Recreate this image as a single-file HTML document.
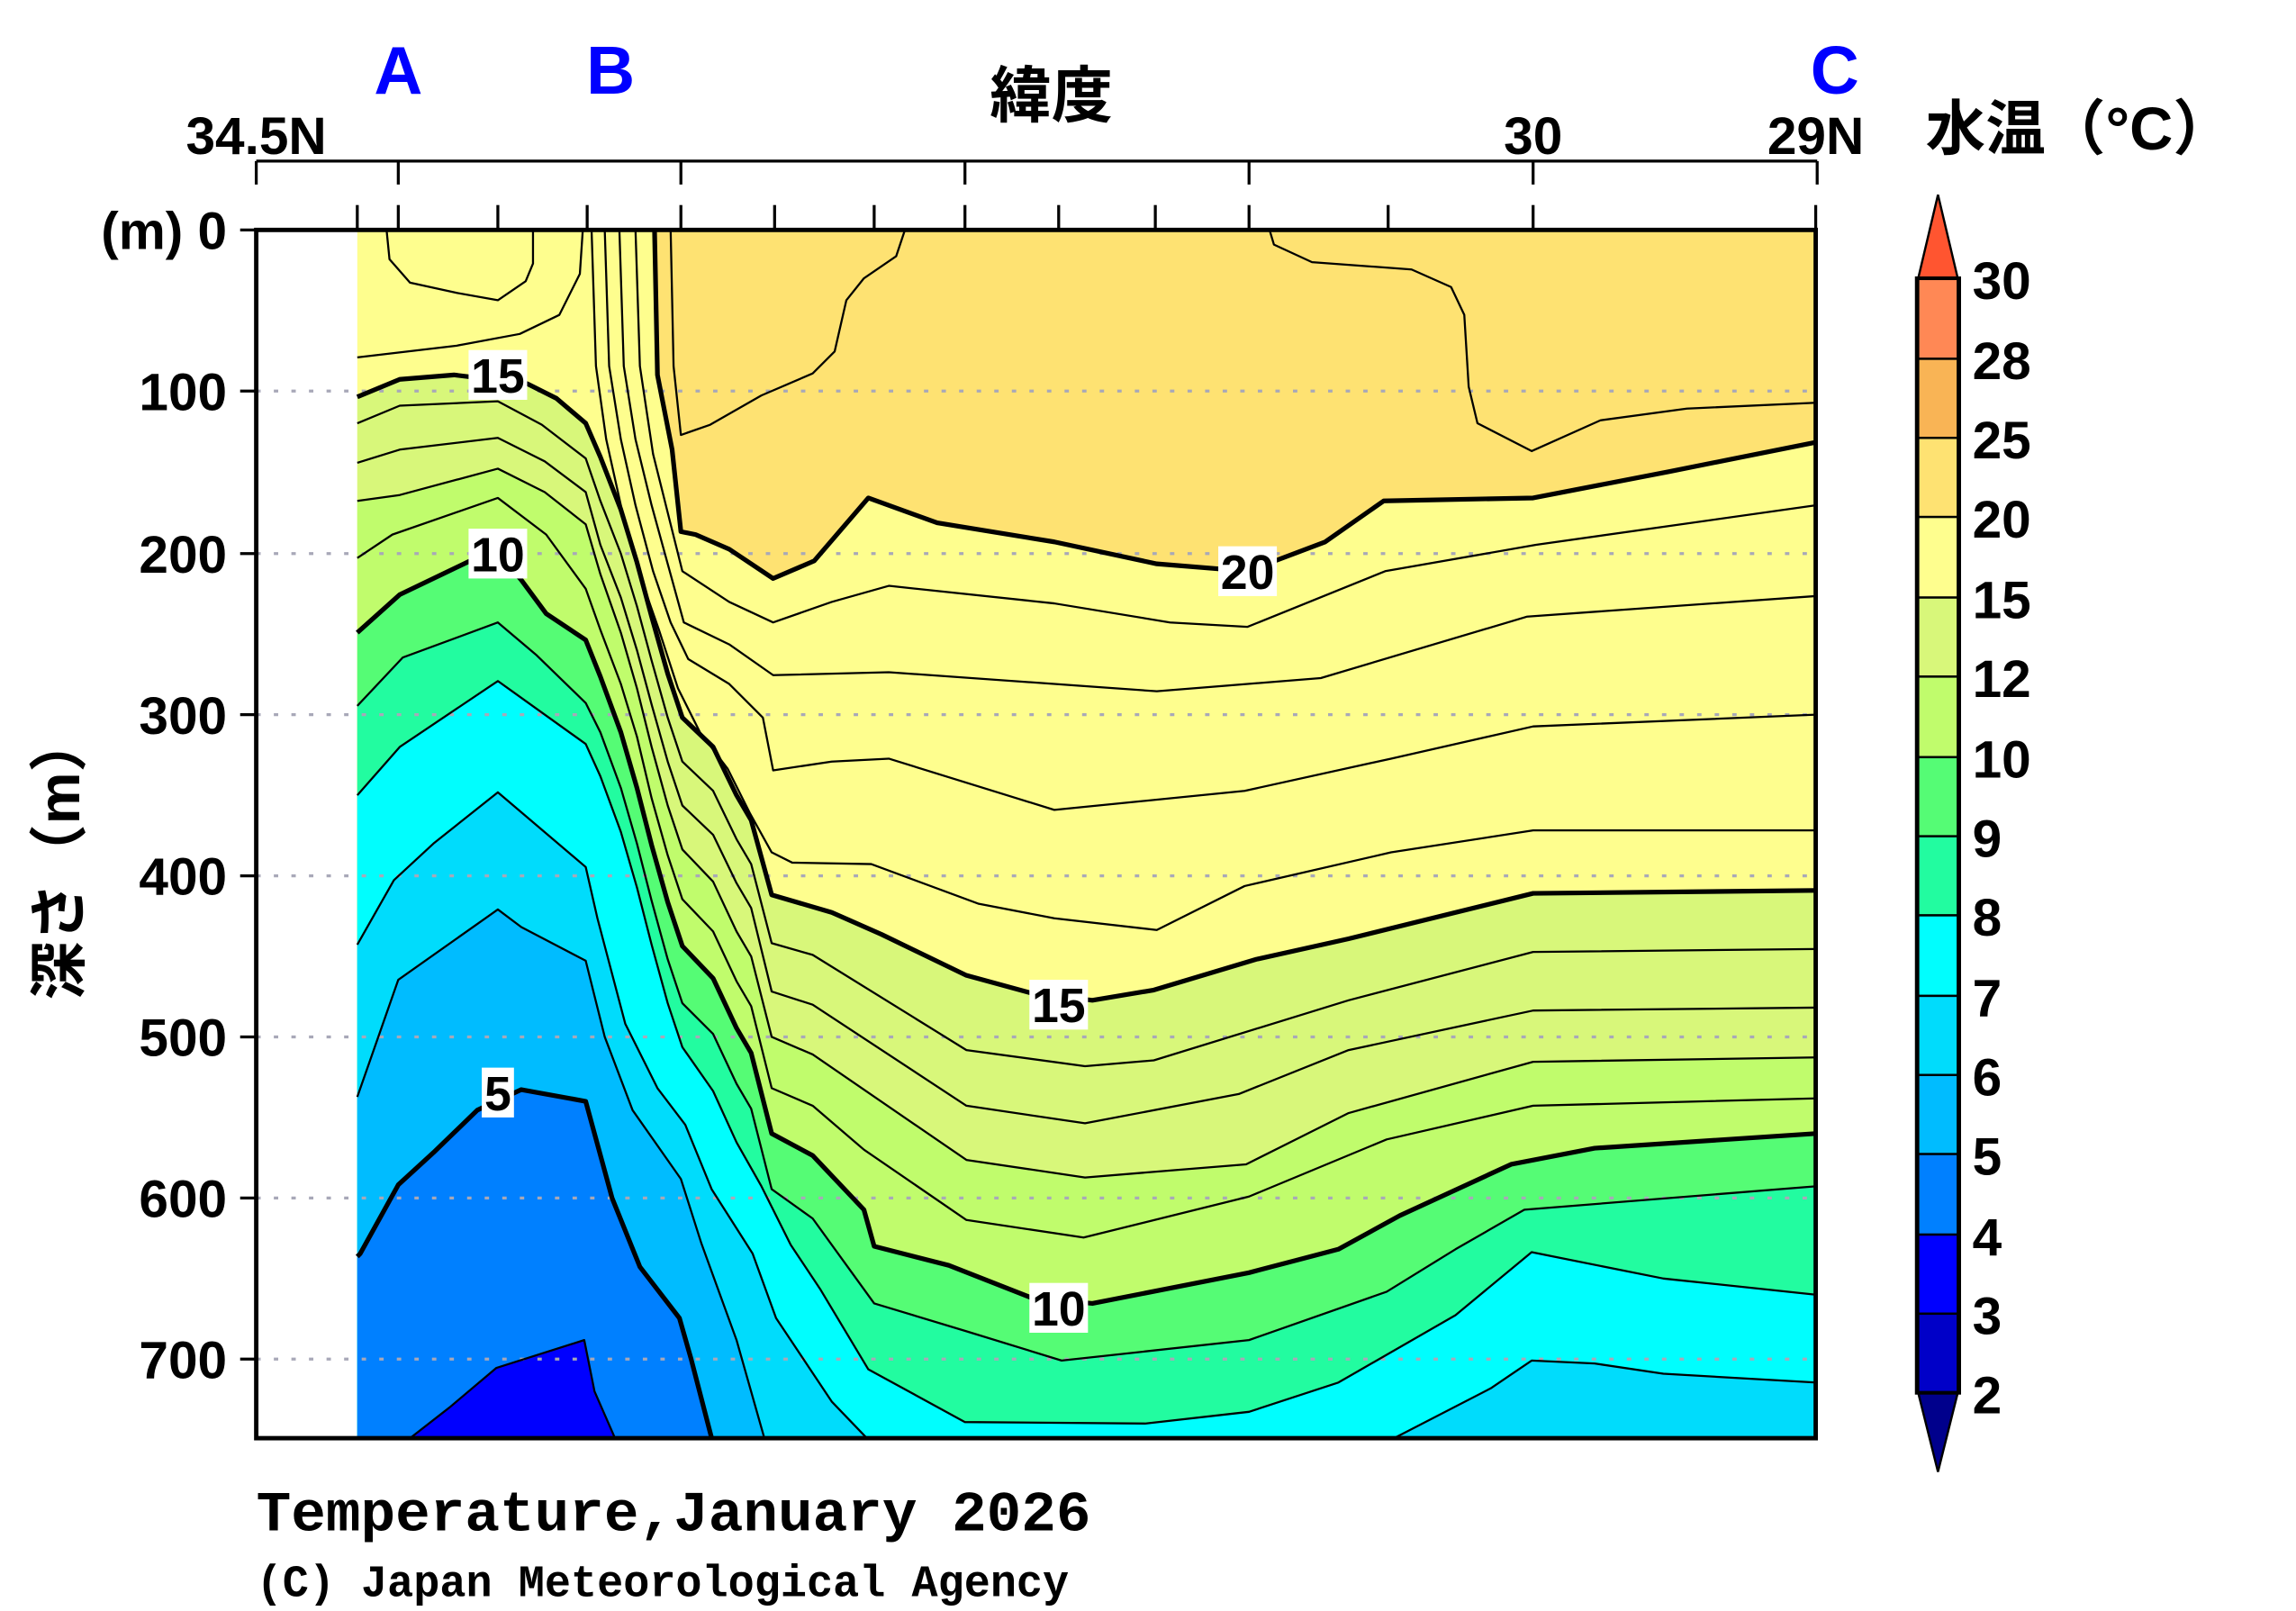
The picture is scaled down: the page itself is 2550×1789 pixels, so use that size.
<!DOCTYPE html>
<html><head><meta charset="utf-8"><style>html,body{margin:0;padding:0;background:#fff}svg{display:block}</style></head>
<body>
<svg width="2550" height="1789" viewBox="0 0 1568 1100" preserveAspectRatio="none" xmlns="http://www.w3.org/2000/svg" font-family="Liberation Sans, sans-serif">
<rect x="0" y="0" width="1568" height="1100" fill="#fff"/>
<!-- fills -->
<rect x="244" y="157" width="996" height="825" fill="#fefe8e"/>
<path fill="#fee272" d="M447,157 L449,256 L459,307 L465,363 L475,365 L498,375 L528,395 L556,383 L593,340 L640,357 L720,370 L790,385 L852,390 L905,370 L945,342 L1047,340 L1140,322 L1240,302 L1240,157 Z"/>
<path fill="#d8f77a" d="M244,271 L273,259 L310,256 L360,262 L380,272 L400,289 L410,312 L424,348 L435,384 L445,421 L456,460 L466,490 L487,510 L503,543 L513,560 L527,611 L568,623 L602,638 L660,666 L704,678 L746,683 L788,676 L858,655 L921,641 L1047,610 L1240,608 L1240,982 L244,982 Z"/>
<path fill="#c0fc6c" d="M244,342 L273,338 L340,320 L372,336 L400,358 L410,392 L424,432 L435,470 L445,510 L456,550 L466,580 L487,602 L503,636 L513,653 L527,708 L555,720 L660,792 L741,804 L851,795 L921,760 L1047,725 L1240,722 L1240,982 L244,982 Z"/>
<path fill="#55fc75" d="M244,432 L273,406 L321,383 L340,378 L356,396 L373,419 L400,437 L410,462 L424,500 L435,538 L445,577 L456,616 L466,646 L487,668 L503,702 L513,719 L527,774 L555,789 L590,826 L597,851 L648,864 L704,886 L746,890 L853,869 L914,853 L956,830 L1032,795 L1089,784 L1240,774 L1240,982 L244,982 Z"/>
<path fill="#22fca0" d="M244,482 L275,449 L340,425 L366,447 L400,480 L410,500 L424,538 L435,576 L445,615 L456,655 L466,685 L487,706 L503,740 L513,757 L527,812 L555,832 L597,890 L660,909 L725,929 L853,915 L947,882 L994,853 L1041,826 L1240,810 L1240,982 L244,982 Z"/>
<path fill="#00fefe" d="M244,543 L273,510 L340,465 L400,508 L410,530 L424,568 L435,606 L445,645 L456,685 L466,715 L487,745 L503,780 L520,810 L540,850 L560,880 L593,935 L659,971 L782,972 L853,964 L914,944 L994,898 L1046,855 L1136,873 L1240,884 L1240,982 L244,982 Z"/>
<path fill="#00dcfc" d="M244,645 L269,601 L296,576 L340,541 L400,592 L408,627 L427,699 L449,743 L468,768 L486,812 L514,856 L530,900 L568,957 L592,982 L244,982 Z"/>
<path fill="#00dcfc" d="M952,982 L1018,948 L1046,929 L1089,931 L1136,938 L1240,944 L1240,982 Z"/>
<path fill="#00bcff" d="M244,749 L272,669 L340,621 L356,633 L400,656 L413,708 L432,758 L465,805 L479,849 L503,915 L522,982 L244,982 Z"/>
<path fill="#0080ff" d="M244,858 L246,856 L272,809 L296,787 L326,758 L356,744 L400,752 L418,818 L437,865 L464,900 L472,928 L486,982 L244,982 Z"/>
<path fill="#0000ff" d="M280,982 L307,961 L339,934 L399,915 L406,950 L420,982 Z"/>
<!-- grid -->
<g stroke="#a8a8b8" stroke-width="2" stroke-dasharray="3,9">
<line x1="175" y1="267" x2="1240" y2="267"/><line x1="175" y1="378" x2="1240" y2="378"/><line x1="175" y1="488" x2="1240" y2="488"/><line x1="175" y1="598" x2="1240" y2="598"/><line x1="175" y1="708" x2="1240" y2="708"/><line x1="175" y1="818" x2="1240" y2="818"/><line x1="175" y1="928" x2="1240" y2="928"/>
</g>
<!-- thin contours -->
<g fill="none" stroke="#000" stroke-width="1.4" stroke-linejoin="round">
<polyline points="458,157 460,250 465,297 485,290 520,270 555,255 570,240 578,205 590,190 612,175 618,157"/>
<polyline points="867,157 870,167 896,179 964,184 991,196 1000,215 1003,264 1009,289 1046,308 1093,287 1152,279 1240,275"/>
<polyline points="264,157 266,177 280,193 312,200 340,205 359,192 364,180 364,157"/>
<polyline points="398,157 396,187 382,215 355,228 312,236 244,244"/>
<polyline points="434,157 437,250 446,310 456,350 466,390 498,411 528,425 568,411 607,400 720,412 799,425 852,428 946,390 1049,372 1240,345"/>
<polyline points="423,157 426,250 434,300 445,345 456,385 467,425 498,440 528,461 607,459 720,467 790,472 902,463 1043,421 1240,407"/>
<polyline points="413,157 416,250 424,300 434,345 446,390 458,425 470,450 498,467 521,490 528,526 568,520 607,518 720,553 850,540 950,518 1047,496 1240,488"/>
<polyline points="404,157 407,250 414,300 424,345 436,390 450,430 463,470 478,500 497,525 512,555 527,582 541,589 595,590 668,617 720,627 790,635 850,605 950,582 1047,567 1240,567"/>
<polyline points="244,289 273,277 340,274 370,290 400,313 410,342 424,378 435,414 445,451 456,490 466,520 487,540 503,573 513,590 527,644 555,652 660,717 741,728 788,724 921,683 1047,650 1240,648"/>
<polyline points="244,316 273,307 340,299 372,315 400,336 410,372 424,408 435,444 445,481 456,520 466,550 487,570 503,603 513,620 527,677 555,686 660,755 741,767 846,747 921,717 1047,690 1240,688"/>
<polyline points="244,342 273,338 340,320 372,336 400,358 410,392 424,432 435,470 445,510 456,550 466,580 487,602 503,636 513,653 527,708 555,720 660,792 741,804 851,795 921,760 1047,725 1240,722"/>
<polyline points="244,381 268,365 340,340 373,365 400,402 410,430 424,467 435,503 445,545 456,584 466,614 487,636 503,670 513,687 527,743 555,755 590,785 660,833 740,845 853,817 947,778 1047,755 1240,750"/>
<polyline points="244,482 275,449 340,425 366,447 400,480 410,500 424,538 435,576 445,615 456,655 466,685 487,706 503,740 513,757 527,812 555,832 597,890 660,909 725,929 853,915 947,882 994,853 1041,826 1240,810"/>
<polyline points="244,543 273,510 340,465 400,508 410,530 424,568 435,606 445,645 456,685 466,715 487,745 503,780 520,810 540,850 560,880 593,935 659,971 782,972 853,964 914,944 994,898 1046,855 1136,873 1240,884"/>
<polyline points="244,645 269,601 296,576 340,541 400,592 408,627 427,699 449,743 468,768 486,812 514,856 530,900 568,957 592,982"/>
<polyline points="952,982 1018,948 1046,929 1089,931 1136,938 1240,944"/>
<polyline points="244,749 272,669 340,621 356,633 400,656 413,708 432,758 465,805 479,849 503,915 522,982"/>
<polyline points="280,982 307,961 339,934 399,915 406,950 420,982"/>
</g>
<!-- thick contours -->
<g fill="none" stroke="#000" stroke-width="3.2" stroke-linejoin="round">
<polyline points="447,157 449,256 459,307 465,363 475,365 498,375 528,395 556,383 593,340 640,357 720,370 790,385 852,390 905,370 945,342 1047,340 1140,322 1240,302"/>
<polyline points="244,271 273,259 310,256 360,262 380,272 400,289 410,312 424,348 435,384 445,421 456,460 466,490 487,510 503,543 513,560 527,611 568,623 602,638 660,666 704,678 746,683 788,676 858,655 921,641 1047,610 1240,608"/>
<polyline points="244,432 273,406 321,383 340,378 356,396 373,419 400,437 410,462 424,500 435,538 445,577 456,616 466,646 487,668 503,702 513,719 527,774 555,789 590,826 597,851 648,864 704,886 746,890 853,869 914,853 956,830 1032,795 1089,784 1240,774"/>
<polyline points="244,858 246,856 272,809 296,787 326,758 356,744 400,752 418,818 437,865 464,900 472,928 486,982"/>
</g>
<!-- contour labels -->
<g font-size="33" font-weight="bold" text-anchor="middle">
<rect x="320" y="239" width="40" height="34" fill="#fff"/><text x="340" y="268">15</text>
<rect x="320" y="361" width="40" height="34" fill="#fff"/><text x="340" y="390">10</text>
<rect x="329" y="729" width="22" height="34" fill="#fff"/><text x="340" y="758">5</text>
<rect x="832" y="373" width="40" height="34" fill="#fff"/><text x="852" y="402">20</text>
<rect x="703" y="669" width="40" height="34" fill="#fff"/><text x="723" y="698">15</text>
<rect x="703" y="876" width="40" height="34" fill="#fff"/><text x="723" y="905">10</text>
</g>
<!-- frame -->
<rect x="175" y="157" width="1065" height="825" fill="none" stroke="#000" stroke-width="3"/>
<g stroke="#000" stroke-width="2">
<line x1="175" y1="110" x2="1241" y2="110"/>
<line x1="175" y1="110" x2="175" y2="126"/><line x1="272" y1="110" x2="272" y2="126"/><line x1="465" y1="110" x2="465" y2="126"/><line x1="659" y1="110" x2="659" y2="126"/><line x1="853" y1="110" x2="853" y2="126"/><line x1="1047" y1="110" x2="1047" y2="126"/><line x1="1241" y1="110" x2="1241" y2="126"/>
<line x1="244" y1="140" x2="244" y2="157"/><line x1="272" y1="140" x2="272" y2="157"/><line x1="340" y1="140" x2="340" y2="157"/><line x1="401" y1="140" x2="401" y2="157"/><line x1="465" y1="140" x2="465" y2="157"/><line x1="529" y1="140" x2="529" y2="157"/><line x1="597" y1="140" x2="597" y2="157"/><line x1="659" y1="140" x2="659" y2="157"/><line x1="723" y1="140" x2="723" y2="157"/><line x1="789" y1="140" x2="789" y2="157"/><line x1="853" y1="140" x2="853" y2="157"/><line x1="948" y1="140" x2="948" y2="157"/><line x1="1047" y1="140" x2="1047" y2="157"/><line x1="1240" y1="140" x2="1240" y2="157"/>
<line x1="164" y1="157" x2="175" y2="157"/><line x1="164" y1="267" x2="175" y2="267"/><line x1="164" y1="378" x2="175" y2="378"/><line x1="164" y1="488" x2="175" y2="488"/><line x1="164" y1="598" x2="175" y2="598"/><line x1="164" y1="708" x2="175" y2="708"/><line x1="164" y1="818" x2="175" y2="818"/><line x1="164" y1="928" x2="175" y2="928"/>
</g>
<!-- axis text -->
<g font-size="36" font-weight="bold" text-anchor="middle" fill="#000">
<text x="175" y="105">34.5N</text><text x="1047" y="105">30</text><text x="1240" y="105">29N</text>
</g>
<text x="718" y="80" font-size="42" font-weight="bold" text-anchor="middle" font-family="Liberation Sans, Noto Sans CJK JP, sans-serif">緯度</text>
<g font-size="46" font-weight="bold" fill="#0000ff" text-anchor="middle">
<text x="272" y="64">A</text><text x="417" y="64">B</text><text x="1253" y="64">C</text>
</g>
<text x="1315" y="102" font-size="41" font-weight="bold" font-family="Liberation Sans, Noto Sans CJK JP, sans-serif">水温（°C）</text>
<g font-size="36" font-weight="bold" text-anchor="end">
<text x="155" y="170">(m) 0</text><text x="155" y="280">100</text><text x="155" y="391">200</text><text x="155" y="501">300</text><text x="155" y="611">400</text><text x="155" y="721">500</text><text x="155" y="831">600</text><text x="155" y="941">700</text>
</g>
<text transform="translate(54,585) rotate(-90)" font-size="40" font-weight="bold" text-anchor="middle" font-family="Liberation Sans, Noto Sans CJK JP, sans-serif">深さ（m）</text>
<text x="175" y="1045" font-size="39" font-weight="bold" font-family="Liberation Mono, monospace" textLength="570" lengthAdjust="spacingAndGlyphs">Temperature,January 2026</text>
<text x="175" y="1090" font-size="31" font-weight="bold" font-family="Liberation Mono, monospace" textLength="555" lengthAdjust="spacingAndGlyphs">(C) Japan Meteorological Agency</text>
<!-- colorbar -->
<g stroke="#000" stroke-width="1.5">
<polygon points="1310,190 1323.5,133 1337,190" fill="#ff5530"/>
<rect x="1310" y="190" width="27" height="55" fill="#ff8855"/>
<rect x="1310" y="245" width="27" height="54" fill="#f9b455"/>
<rect x="1310" y="299" width="27" height="54" fill="#fee272"/>
<rect x="1310" y="353" width="27" height="55" fill="#fefe8e"/>
<rect x="1310" y="408" width="27" height="54" fill="#d8f77a"/>
<rect x="1310" y="462" width="27" height="55" fill="#c0fc6c"/>
<rect x="1310" y="517" width="27" height="54" fill="#55fc75"/>
<rect x="1310" y="571" width="27" height="54" fill="#22fca0"/>
<rect x="1310" y="625" width="27" height="55" fill="#00fefe"/>
<rect x="1310" y="680" width="27" height="54" fill="#00dcfc"/>
<rect x="1310" y="734" width="27" height="54" fill="#00bcff"/>
<rect x="1310" y="788" width="27" height="55" fill="#0080ff"/>
<rect x="1310" y="843" width="27" height="54" fill="#0000ff"/>
<rect x="1310" y="897" width="27" height="54" fill="#0000c8"/>
<polygon points="1310,951 1323.5,1005 1337,951" fill="#00008c"/>
</g>
<rect x="1309" y="190" width="29" height="761" fill="none" stroke="#000" stroke-width="2.5"/>
<g font-size="36" font-weight="bold">
<text x="1347" y="204">30</text><text x="1347" y="259">28</text><text x="1347" y="313">25</text><text x="1347" y="367">20</text><text x="1347" y="422">15</text><text x="1347" y="476">12</text><text x="1347" y="531">10</text><text x="1347" y="585">9</text><text x="1347" y="639">8</text><text x="1347" y="694">7</text><text x="1347" y="748">6</text><text x="1347" y="802">5</text><text x="1347" y="857">4</text><text x="1347" y="911">3</text><text x="1347" y="965">2</text>
</g>
</svg>
</body></html>
